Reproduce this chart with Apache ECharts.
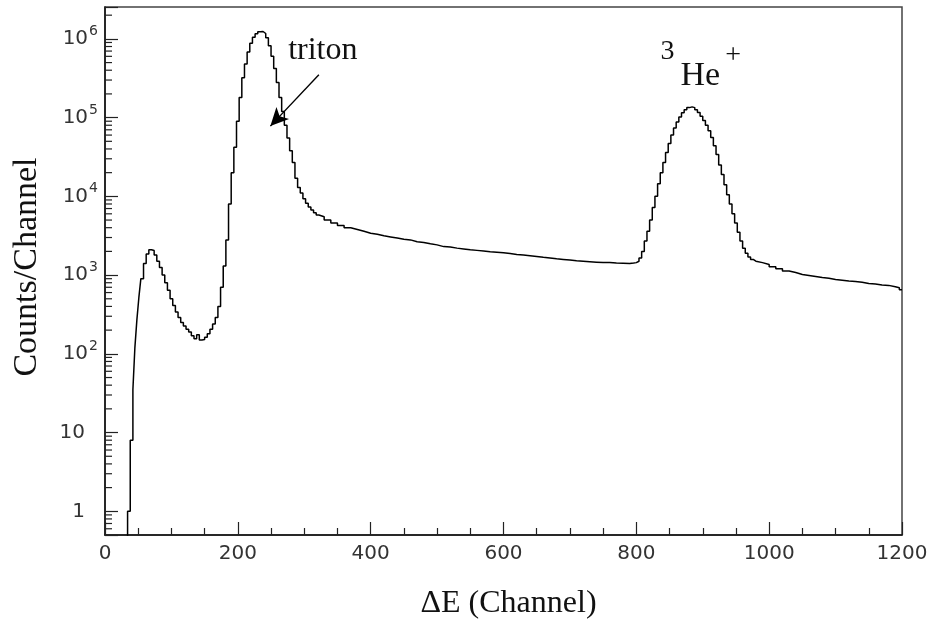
<!DOCTYPE html>
<html>
<head>
<meta charset="utf-8">
<script src="https://cdn.jsdelivr.net/npm/echarts@6/dist/echarts.min.js"></script>
<style>
  html, body { margin: 0; background: #fff; }
  #chart { width: 934px; height: 625px; }
</style>
</head>
<body>
<div id="chart"></div>
<script>
// histogram bins (left edge of each bin, in channels) and counts per channel
const channels = [
  30, 34, 38, 42, 45, 48, 51, 54, 58, 62, 66, 70, 74, 78, 82, 86, 90, 94, 98,
  102, 106, 110, 114, 118, 122, 126, 130, 134, 138, 142, 146, 150, 154, 158,
  162, 166, 170, 174, 178, 182, 186, 190, 194, 198, 202, 206, 210, 214, 218,
  222, 226, 230, 234, 238, 242, 246, 250, 254, 258, 262, 266, 270, 274, 278,
  282, 286, 290, 294, 298, 302, 306, 310, 314, 318, 322, 330, 340, 350, 360,
  370, 380, 390, 400, 410, 420, 430, 440, 450, 460, 470, 480, 490, 500, 510,
  520, 530, 540, 550, 560, 570, 580, 590, 600, 610, 620, 630, 640, 650, 660,
  670, 680, 690, 700, 710, 720, 730, 740, 750, 760, 770, 780, 790, 796, 800,
  804, 808, 812, 816, 820, 824, 828, 832, 836, 840, 844, 848, 852, 856, 860,
  864, 868, 872, 876, 880, 884, 888, 892, 896, 900, 904, 908, 912, 916, 920,
  924, 928, 932, 936, 940, 944, 948, 952, 956, 960, 964, 968, 972, 976, 980,
  990, 1000, 1010, 1020, 1030, 1040, 1050, 1060, 1070, 1080, 1090, 1100, 1110,
  1120, 1130, 1140, 1150, 1160, 1170, 1180, 1190, 1196, 1200
];
const counts = [
  0.2, 1, 8, 35, 120, 270, 520, 900, 1400, 1850, 2100, 2050, 1800, 1500, 1250,
  1000, 800, 640, 500, 410, 340, 290, 250, 225, 205, 190, 170, 155, 175, 150,
  152, 162, 180, 205, 240, 290, 400, 700, 1300, 2800, 8000, 20000, 42000,
  90000, 180000, 320000, 480000, 680000, 880000, 1050000, 1160000, 1230000,
  1240000, 1170000, 1030000, 820000, 600000, 420000, 280000, 180000, 120000,
  80000, 55000, 38000, 27000, 17000, 13000, 11000, 9300, 8200, 7300, 6700,
  6200, 5800, 5500, 5000, 4600, 4250, 4000, 3800, 3600, 3400, 3300, 3150,
  3050, 2950, 2850, 2800, 2650, 2600, 2500, 2420, 2300, 2280, 2200, 2150,
  2100, 2060, 2020, 1980, 1950, 1920, 1880, 1830, 1800, 1760, 1720, 1680,
  1650, 1610, 1580, 1550, 1520, 1500, 1480, 1460, 1440, 1450, 1420, 1410,
  1400, 1420, 1440, 1500, 1650, 2000, 2700, 3600, 5000, 7200, 10000, 14500,
  20000, 27000, 36000, 47000, 60000, 74000, 88000, 102000, 115000, 126000,
  134000, 137000, 134000, 126000, 116000, 104000, 92000, 80000, 68000, 56000,
  44000, 34000, 25000, 19000, 14000, 10500, 8000, 6000, 4600, 3500, 2700,
  2200, 1900, 1700, 1580, 1500, 1440, 1360, 1280, 1200, 1130, 1080, 1020,
  990, 960, 930, 910, 880, 860, 840, 830, 810, 780, 770, 750, 740, 710, 690,
  650, 650
];

// log axis minor ticks (2..9 per decade)
const minorMults = [2, 3, 4, 5, 6, 7, 8, 9];
const decades = [0.1, 1, 10, 100, 1e3, 1e4, 1e5, 1e6];
const yMin = 0.5, yMax = 2.54e6;

const minorTicks = [];
decades.forEach(function (d) {
  minorMults.forEach(function (m) {
    const v = d * m;
    if (v > yMin && v < yMax) minorTicks.push([0, v]);
  });
});

const chart = echarts.init(document.getElementById('chart'));

const serif = '"Liberation Serif", "Times New Roman", serif';
const sans = '"DejaVu Sans", sans-serif';

const option = {
  animation: false,
  backgroundColor: '#fff',
  grid: {
    left: 105, right: 32, top: 7, bottom: 88,
    show: true, borderColor: '#444', borderWidth: 1.5
  },
  xAxis: {
    type: 'value',
    min: 0, max: 1200, interval: 200,
    name: 'ΔE (Channel)',
    nameLocation: 'middle',
    nameGap: 53,
    nameTextStyle: { fontFamily: serif, fontSize: 32, color: '#111', padding: [0, 0, 0, 10] },
    axisLine: { lineStyle: { color: '#111', width: 1.5 } },
    axisTick: { inside: true, length: 13, lineStyle: { color: '#222', width: 1.2 } },
    minorTick: { show: true, splitNumber: 4, length: 7, lineStyle: { color: '#222', width: 1.2 } },
    splitLine: { show: false },
    axisLabel: {
      fontFamily: sans, fontSize: 20, color: '#333', margin: 9,
      formatter: function (v) { return String(v); }
    }
  },
  yAxis: {
    type: 'log',
    logBase: 10,
    min: yMin, max: yMax,
    name: 'Counts/Channel',
    nameLocation: 'middle',
    nameGap: 61,
    nameTextStyle: { fontFamily: serif, fontSize: 34, color: '#111', padding: [0, 0, 0, 8] },
    axisLine: { lineStyle: { color: '#111', width: 1.5 } },
    axisTick: { inside: true, length: 13, lineStyle: { color: '#222', width: 1.2 } },
    splitLine: { show: false },
    axisLabel: {
      margin: 7,
      fontFamily: sans,
      fontSize: 20,
      color: '#333',
      formatter: function (v) {
        const e = Math.round(Math.log10(v));
        if (Math.abs(Math.log10(v) - e) > 1e-6) return '';
        if (e === 0) return '{p|1}';
        if (e === 1) return '{p|10}';
        return '{b|10}{s|' + e + '}';
      },
      rich: {
        p: { fontFamily: sans, fontSize: 20, color: '#333', padding: [0, 13, 0, 0] },
        b: { fontFamily: sans, fontSize: 20, color: '#333' },
        s: { fontFamily: sans, fontSize: 14, color: '#333', padding: [0, 0, 15, 1] }
      }
    }
  },
  series: [
    {
      type: 'line',
      step: 'end',
      showSymbol: false,
      data: channels.map(function (c, i) { return [c, counts[i]]; }),
      lineStyle: { color: '#000', width: 1.5 },
      clip: true,
      silent: true,
      markLine: {
        silent: true,
        symbol: ['none', 'arrow'],
        symbolSize: [13, 18],
        label: { show: false },
        lineStyle: { color: '#000', width: 1.4, type: 'solid' },
        data: [[{ coord: [322, 350000] }, { coord: [249, 78000] }]]
      },
      markPoint: {
        silent: true,
        symbol: 'circle',
        symbolSize: 1,
        itemStyle: { color: 'rgba(0,0,0,0)' },
        data: [
          {
            coord: [328, 700000],
            label: {
              show: true, position: 'inside',
              formatter: 'triton',
              fontFamily: serif, fontSize: 32, color: '#111'
            }
          },
          {
            coord: [897, 340000],
            label: {
              show: true, position: 'inside',
              formatter: '{s|3}{b|He}{s2|+}',
              rich: {
                b: { fontFamily: serif, fontSize: 34, color: '#111' },
                s: { fontFamily: serif, fontSize: 28, color: '#111', padding: [0, 6, 48, 0] },
                s2: { fontFamily: serif, fontSize: 28, color: '#111', padding: [0, 0, 40, 5] }
              }
            }
          }
        ]
      }
    },
    {
      type: 'custom',
      silent: true,
      data: minorTicks,
      renderItem: function (params, api) {
        const p = api.coord([api.value(0), api.value(1)]);
        return {
          type: 'line',
          shape: { x1: p[0], y1: p[1], x2: p[0] + 7, y2: p[1] },
          style: { stroke: '#222', lineWidth: 1.2 }
        };
      }
    }
  ]
};

chart.setOption(option);
</script>
</body>
</html>
